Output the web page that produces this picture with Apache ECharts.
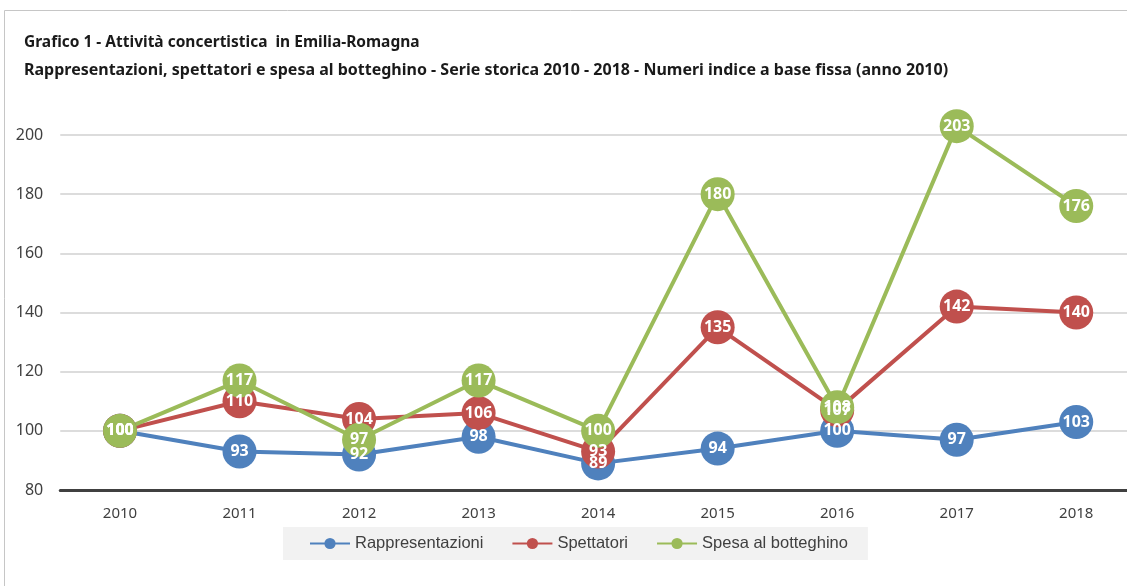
<!DOCTYPE html>
<html><head><meta charset="utf-8">
<script src="https://cdn.jsdelivr.net/npm/echarts@6/dist/echarts.min.js"></script>
<style>html,body{margin:0;padding:0;background:#fff;overflow:hidden;width:1127px;height:586px}#c{width:1136px;height:586px}</style>
</head><body><div id="c"></div>
<script>
const titleText = 'Grafico 1 - Attività concertistica  in Emilia-Romagna';
const subtitleText = 'Rappresentazioni, spettatori e spesa al botteghino - Serie storica 2010 - 2018 - Numeri indice a base fissa (anno 2010)';
const years = ['2010','2011','2012','2013','2014','2015','2016','2017','2018'];
const seriesNames = ['Rappresentazioni','Spettatori','Spesa al botteghino'];
const rappresentazioni = [100,93,92,98,89,94,100,97,103];
const spettatori = [100,110,104,106,93,135,107,142,140];
const spesa = [100,117,97,117,100,180,108,203,176];
const yMin = 80, yMax = 200, yStep = 20;
const colors = ['#4f81bd','#c0504d','#9bbb59'];

const chart = echarts.init(document.getElementById('c'), null, {renderer:'canvas'});
const FONT = 'Noto Sans';
function mk(name, data, color){
  return {
    name, type:'line', data, color,
    symbol:'circle', symbolSize:34, clip:false,
    lineStyle:{width:4,color},
    itemStyle:{color},
    label:{show:true,position:'inside',color:'#fff',fontFamily:FONT,fontWeight:'bold',fontSize:16},
    emphasis:{disabled:true}
  };
}
chart.setOption({
  animation:false,
  backgroundColor:'#fff',
  graphic:[{type:'rect',shape:{x:4.5,y:10.5,width:1300,height:800},style:{fill:null,stroke:'#c6c6c6',lineWidth:1},silent:true}],
  title:[
    {text:titleText,left:19,top:30,textStyle:{fontFamily:FONT,fontWeight:'bold',fontSize:15.5,color:'#1a1a1a'}},
    {text:subtitleText,left:19,top:57,textStyle:{fontFamily:FONT,fontWeight:'bold',fontSize:16,color:'#1a1a1a'}}
  ],
  legend:{
    data:seriesNames, left:283, top:527,
    backgroundColor:'#f2f2f2', padding:[8,20,8,26],
    itemWidth:40, itemHeight:14, itemGap:28,
    textStyle:{fontFamily:'Liberation Sans',fontSize:16.5,color:'#404040'}
  },
  grid:{left:60.25,right:0,top:135,bottom:96,containLabel:false},
  xAxis:{
    type:'category', data:years, boundaryGap:true,
    axisLine:{lineStyle:{color:'#404040',width:3}},
    axisTick:{show:false},
    axisLabel:{margin:16,fontFamily:FONT,fontSize:15,color:'#404040'}
  },
  yAxis:{
    type:'value', min:yMin, max:yMax, interval:yStep,
    axisLine:{show:false}, axisTick:{show:false},
    axisLabel:{margin:17,fontFamily:FONT,fontSize:16,color:'#404040'},
    splitLine:{lineStyle:{color:'#d0d0d0',width:1.5}}
  },
  series:[mk(seriesNames[0],rappresentazioni,colors[0]),mk(seriesNames[1],spettatori,colors[1]),mk(seriesNames[2],spesa,colors[2])]
});
</script></body></html>
